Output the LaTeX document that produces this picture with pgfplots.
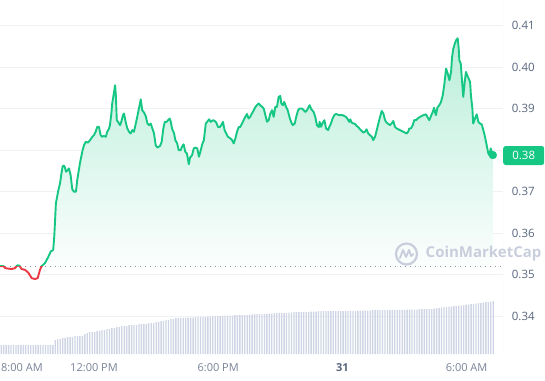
\documentclass[border=0pt]{standalone}
\usepackage{fontspec}
\setmainfont{Open Sans}
\usepackage{pgfplots}
\usepackage{pgfplotstable}
\pgfplotsset{compat=1.18}
\definecolor{cmcgreen}{RGB}{22,199,132}
\definecolor{cmcred}{RGB}{234,57,67}
\definecolor{gridc}{RGB}{239,242,245}
\definecolor{barc}{RGB}{207,213,228}
\definecolor{labc}{RGB}{88,102,126}
\definecolor{xlabc}{RGB}{120,130,150}
\definecolor{wmc}{RGB}{200,206,220}
\definecolor{dotc}{RGB}{140,148,164}

\pgfplotstableread{
h v
7.46 0.3521
7.62 0.3521
7.72 0.3516
7.86 0.3515
8.02 0.3514
8.18 0.3516
8.30 0.3523
8.40 0.3522
8.50 0.3514
8.67 0.3512
8.83 0.3505
8.99 0.3492
9.15 0.3490
9.28 0.3492
9.39 0.3512
9.47 0.3521
9.63 0.3528
9.79 0.3543
9.91 0.3556
10.03 0.3560
10.08 0.3592
10.16 0.3672
10.28 0.3704
10.36 0.3720
10.44 0.3748
10.49 0.3762
10.57 0.3762
10.65 0.3748
10.73 0.3752
10.79 0.3756
10.87 0.3740
10.95 0.3706
11.03 0.3700
11.13 0.3700
11.19 0.3728
11.32 0.3768
11.45 0.3800
11.52 0.3812
11.60 0.3820
11.71 0.3818
11.81 0.3824
11.92 0.3832
12.00 0.3836
12.08 0.3844
12.16 0.3856
12.24 0.3856
12.32 0.3836
12.40 0.3832
12.48 0.3834
12.57 0.3832
12.64 0.3844
12.73 0.3852
12.77 0.3860
12.84 0.3888
12.88 0.3912
12.97 0.3940
13.02 0.3956
13.06 0.3928
13.10 0.3872
13.16 0.3868
13.26 0.3860
13.32 0.3868
13.40 0.3884
13.45 0.3888
13.53 0.3868
13.61 0.3852
13.69 0.3844
13.77 0.3840
13.85 0.3848
13.93 0.3844
14.02 0.3864
14.09 0.3880
14.17 0.3900
14.26 0.3922
14.33 0.3896
14.42 0.3890
14.50 0.3882
14.58 0.3864
14.66 0.3860
14.74 0.3864
14.82 0.3852
14.90 0.3840
14.98 0.3812
15.06 0.3806
15.19 0.3810
15.27 0.3820
15.35 0.3852
15.42 0.3868
15.51 0.3868
15.58 0.3872
15.66 0.3876
15.71 0.3868
15.77 0.3852
15.87 0.3840
15.93 0.3824
16.02 0.3816
16.09 0.3800
16.19 0.3800
16.25 0.3808
16.33 0.3814
16.41 0.3796
16.49 0.3792
16.58 0.3766
16.64 0.3782
16.74 0.3788
16.82 0.3804
16.89 0.3806
16.99 0.3804
17.07 0.3784
17.16 0.3800
17.23 0.3814
17.31 0.3824
17.40 0.3864
17.47 0.3868
17.56 0.3874
17.64 0.3868
17.75 0.3872
17.83 0.3870
17.91 0.3866
17.99 0.3856
18.07 0.3855
18.15 0.3860
18.23 0.3868
18.31 0.3848
18.39 0.3840
18.47 0.3832
18.59 0.3828
18.67 0.3824
18.75 0.3816
18.83 0.3828
18.91 0.3844
18.99 0.3855
19.07 0.3856
19.15 0.3864
19.23 0.3872
19.31 0.3880
19.39 0.3887
19.47 0.3876
19.55 0.3880
19.63 0.3888
19.72 0.3896
19.79 0.3903
19.87 0.3908
19.96 0.3912
20.03 0.3908
20.12 0.3904
20.20 0.3900
20.28 0.3884
20.36 0.3868
20.44 0.3872
20.52 0.3888
20.60 0.3896
20.68 0.3880
20.76 0.3904
20.84 0.3904
20.92 0.3928
21.00 0.3930
21.05 0.3912
21.13 0.3908
21.19 0.3916
21.28 0.3904
21.36 0.3896
21.44 0.3880
21.52 0.3868
21.60 0.3860
21.70 0.3864
21.77 0.3880
21.86 0.3896
21.94 0.3900
22.05 0.3900
22.13 0.3896
22.21 0.3892
22.29 0.3896
22.37 0.3904
22.42 0.3908
22.50 0.3898
22.61 0.3892
22.69 0.3880
22.77 0.3860
22.86 0.3855
22.90 0.3868
22.97 0.3856
23.05 0.3866
23.13 0.3872
23.21 0.3852
23.31 0.3848
23.37 0.3856
23.45 0.3864
23.53 0.3876
23.61 0.3884
23.69 0.3887
23.85 0.3884
24.02 0.3884
24.09 0.3882
24.17 0.3880
24.26 0.3874
24.33 0.3868
24.38 0.3874
24.45 0.3866
24.53 0.3864
24.61 0.3863
24.69 0.3858
24.77 0.3855
24.85 0.3850
24.93 0.3846
25.01 0.3842
25.09 0.3844
25.17 0.3850
25.25 0.3840
25.33 0.3836
25.42 0.3832
25.49 0.3824
25.58 0.3832
25.66 0.3848
25.74 0.3864
25.82 0.3880
25.90 0.3894
25.98 0.3888
26.06 0.3872
26.14 0.3866
26.22 0.3863
26.30 0.3860
26.38 0.3864
26.46 0.3870
26.54 0.3856
26.62 0.3852
26.70 0.3850
26.78 0.3848
26.87 0.3846
26.94 0.3844
27.03 0.3842
27.11 0.3840
27.18 0.3844
27.23 0.3852
27.31 0.3852
27.40 0.3860
27.47 0.3872
27.56 0.3872
27.64 0.3876
27.75 0.3880
27.91 0.3884
28.04 0.3886
28.10 0.3880
28.20 0.3872
28.28 0.3882
28.36 0.3891
28.43 0.3902
28.47 0.3892
28.52 0.3884
28.59 0.3902
28.68 0.3908
28.76 0.3915
28.85 0.3932
28.92 0.3956
29.01 0.3996
29.09 0.3984
29.17 0.3968
29.25 0.3988
29.30 0.4024
29.36 0.4044
29.44 0.4057
29.49 0.4064
29.57 0.4069
29.62 0.4044
29.65 0.4016
29.72 0.4008
29.76 0.3980
29.84 0.3928
29.91 0.3964
29.97 0.3988
30.03 0.3980
30.10 0.3972
30.17 0.3964
30.21 0.3932
30.28 0.3900
30.32 0.3864
30.41 0.3876
30.49 0.3886
30.57 0.3868
30.65 0.3864
30.73 0.3862
30.81 0.3848
30.89 0.3832
30.97 0.3812
31.05 0.3792
31.10 0.3788
31.17 0.3804
31.23 0.3792
31.27 0.3788
}\pricetable

\pgfplotstableread{
v
9
9
9
9
9
9
9
9
9
9
9
9
9
9
9
9
9
9
9
9
9
9
14
15
15
16
16
17
17
17
18
18
18
18
20
21
22
22
22
23
23
24
24
25
25
26
26
27
27
28
28
28
29
29
29
29
30
30
30
30
31
31
31
32
32
33
33
34
34
35
35
36
36
36
36
36
36.5
36.5
36.5
37
37
37
37
37
37.5
37.5
38
38
38
38
38
38.5
38.5
38.5
38.5
39
39
39
39
39
39
39.5
39.5
40
40
40
40
40
40
40.5
40.5
41
41
41
41
41
41
41.5
41.5
42
42
42
42
42
42
42
42.5
42.5
42.5
43
43
43
43
43
43
43
43
43
43
43
43
43
43
43
43
43.5
43.5
43.5
43.5
43.5
43.5
44
44
44
44
44
44
44
44
44
44
44
44
44
44
44.5
44.5
44.5
44.5
44.5
45
45
45
45
45
45
45.5
46
46
46.5
47
47
47.5
47.5
48
48
48.5
48.5
49
49.5
49.5
50
50
50.5
51
51
51.5
52
52
52.5
53
}\voltable

\begin{document}
\begin{tikzpicture}
\useasboundingbox (0,0) rectangle (545pt,380pt);
\begin{axis}[
  at={(0pt,26pt)}, anchor=south west,
  width=503pt, height=354pt, scale only axis,
  xmin=7.459, xmax=31.76, ymin=0.33096, ymax=0.4161,
  axis line style={draw=none},
  major tick length=0pt,
  xtick={8.52,12,18,24,30},
  xticklabels={8:00 AM,12:00 PM,6:00 PM,{\color{labc}\bfseries 31},6:00 AM},
  xticklabel style={anchor=center, yshift=-13.5pt, inner sep=0pt, text=xlabc, font=\fontsize{11}{13}\selectfont},
  ytick={0.34,0.35,0.36,0.37,0.38,0.39,0.40,0.41},
  yticklabels={0.34,0.35,0.36,0.37,,0.39,0.40,0.41},
  yticklabel pos=right,
  yticklabel style={anchor=west, inner sep=0pt, xshift=8.7pt, text=labc, font=\fontsize{11.5}{13}\selectfont},
  ymajorgrids,
  grid style={gridc, line width=0.8pt},
]
\begin{scope}
\clip (axis cs:7,0.3519) rectangle (axis cs:32,0.42);
\addplot[draw=none, top color=cmcgreen!30!white, bottom color=white] table[x=h,y=v]{\pricetable} -- (axis cs:31.27,0.3519) -- (axis cs:7.46,0.3519) -- cycle;
\end{scope}
\addplot[draw=dotc, line width=0.9pt, dash pattern=on 0.9pt off 4.1pt] coordinates {(7.459,0.3519) (31.62,0.3519)};
\begin{scope}
\clip (axis cs:7,0.3519) rectangle (axis cs:32,0.42);
\addplot[cmcgreen, line width=1.9pt, line join=round] table[x=h,y=v]{\pricetable};
\end{scope}
\begin{scope}
\clip (axis cs:7,0.33) rectangle (axis cs:32,0.3519);
\addplot[cmcred, line width=1.9pt, line join=round] table[x=h,y=v]{\pricetable};
\end{scope}
\addplot[only marks, mark=*, mark size=3.9pt, cmcgreen] coordinates {(31.27,0.3788)};
\coordinate (lastp) at (axis cs:31.76,0.3787);
\draw[gridc, line width=0.8pt] (rel axis cs:1,0) -- (rel axis cs:1,1);
\end{axis}
\begin{axis}[
  at={(0pt,26pt)}, anchor=south west,
  width=503pt, height=354pt, scale only axis,
  xmin=-0.488, xmax=203.98, ymin=0, ymax=354,
  hide axis,
]
\addplot[ybar, bar width=0.55, fill=barc, draw=none] table[x expr=\coordindex, y=v]{\voltable};
\end{axis}
\node[anchor=west, fill=cmcgreen, rounded corners=2.5pt, minimum width=41pt, minimum height=19pt, inner sep=0pt, text=white, font=\fontsize{11.5}{13}\selectfont] at (lastp) {0.38};
\draw[wmc, line width=2.2pt] (406.5pt,126pt) circle (10.5pt);
\draw[wmc, line width=1.9pt, line join=round, line cap=round] (400pt,122pt) -- (403pt,130pt) -- (406pt,123pt) -- (409pt,130pt) -- (411pt,124pt) -- (413.5pt,126pt);
\node[anchor=base west, inner sep=0pt, text=wmc, font=\fontsize{15}{17}\selectfont\bfseries] at (425.5pt,122pt) {CoinMarketCap};
\end{tikzpicture}
\end{document}
